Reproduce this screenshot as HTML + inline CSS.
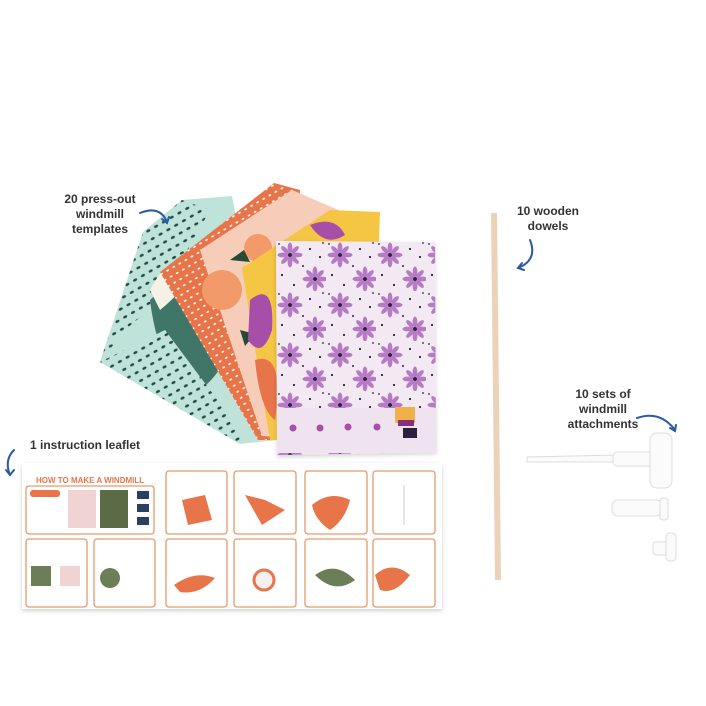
<!DOCTYPE html>
<html><head><meta charset="utf-8"><style>
html,body{margin:0;padding:0;background:#fff;}
svg{display:block;}
text{font-family:"Liberation Sans",sans-serif;}
</style></head><body>
<svg width="706" height="706" viewBox="0 0 706 706" xmlns="http://www.w3.org/2000/svg">
<defs>
<pattern id="tdots" width="9" height="9" patternUnits="userSpaceOnUse" patternTransform="rotate(-30)">
<rect width="9" height="9" fill="#bfe3d8"/><ellipse cx="4" cy="4" rx="2.2" ry="1.3" fill="#1f4a45"/></pattern>
<pattern id="odots" width="7" height="7" patternUnits="userSpaceOnUse" patternTransform="rotate(-30)">
<rect width="7" height="7" fill="#e8744a"/><ellipse cx="3" cy="3" rx="1.5" ry="0.9" fill="#fff"/></pattern>
<g id="fl" fill="#b77ac4">
<ellipse cx="0" cy="-7" rx="2.4" ry="5.5"/><ellipse cx="0" cy="7" rx="2.4" ry="5.5"/><ellipse cx="-7" cy="0" rx="5.5" ry="2.4"/><ellipse cx="7" cy="0" rx="5.5" ry="2.4"/>
<ellipse cx="5" cy="-5" rx="2.2" ry="5" transform="rotate(45 5 -5)"/><ellipse cx="-5" cy="5" rx="2.2" ry="5" transform="rotate(45 -5 5)"/>
<ellipse cx="-5" cy="-5" rx="2.2" ry="5" transform="rotate(-45 -5 -5)"/><ellipse cx="5" cy="5" rx="2.2" ry="5" transform="rotate(-45 5 5)"/>
<circle r="2" fill="#2b2040"/></g>
<pattern id="pflow" width="50" height="50" patternUnits="userSpaceOnUse" x="276" y="241">
<rect width="50" height="50" fill="#f3e9f3"/>
<use href="#fl" x="14" y="14"/><use href="#fl" x="39" y="38"/>
<g fill="#2b2040"><circle cx="34" cy="8" r="1.1"/><circle cx="44" cy="16" r="1.1"/><circle cx="6" cy="34" r="1.1"/><circle cx="18" cy="44" r="1.1"/><circle cx="27" cy="25" r="1"/><circle cx="3" cy="3" r="0.9"/><circle cx="47" cy="2" r="0.9"/></g>
</pattern>
<filter id="sh" x="-10%" y="-10%" width="120%" height="130%"><feDropShadow dx="0" dy="2" stdDeviation="2" flood-color="#000" flood-opacity="0.18"/></filter>
</defs>

<polygon points="182,200 232,196 278,440 240,444 100,362 143,232" fill="#bfe3d8"/>
<polygon points="143,232 182,200 210,210 160,300 125,330 100,362" fill="url(#tdots)"/>
<path d="M150,300 Q190,260 230,300 Q240,360 200,390 Q160,380 150,300Z" fill="#3f7668"/>
<path d="M150,290 Q170,250 200,262 Q185,290 160,310Z" fill="#f4f1e6"/>
<polygon points="100,362 165,330 240,430 240,444" fill="url(#tdots)"/>
<polygon points="160,272 274,183 300,190 290,440 258,440" fill="url(#odots)"/>
<polygon points="200,250 292,190 350,215 330,440 262,436" fill="#f6cdb8"/>
<circle cx="222" cy="290" r="20" fill="#f39a6a"/>
<circle cx="258" cy="248" r="14" fill="#f39a6a"/>
<path d="M230,260 l14,-10 l6,12Z M255,300 l18,-6 l-4,14Z M240,330 l15,4 l-10,12Z" fill="#274a38"/>
<polygon points="242,268 330,210 380,212 372,440 270,440" fill="#f5c544"/>
<path d="M250,300 Q275,280 272,330 Q262,360 248,340Z" fill="#a64ea8"/>
<path d="M310,225 Q335,215 345,235 Q325,248 310,225Z" fill="#a64ea8"/>
<path d="M255,360 Q285,350 275,420 Q260,410 255,360Z" fill="#e8744a"/>
<polygon points="276,241 435,242 436,452 277,455" fill="url(#pflow)" filter="url(#sh)"/>
<rect x="277" y="408" width="159" height="45" fill="#efe3ef"/>
<g fill="#a64ea8"><circle cx="293" cy="428" r="3.5"/><circle cx="320" cy="428" r="3.5"/><circle cx="348" cy="427" r="3.5"/><circle cx="377" cy="427" r="3.5"/></g>
<rect x="395" y="407" width="20" height="16" fill="#f0b04a"/><rect x="398" y="420" width="16" height="6" fill="#8a2e7a"/><rect x="403" y="428" width="14" height="10" fill="#2b2040"/>

<g font-weight="bold" font-size="12" fill="#333" text-anchor="middle">
<text x="100" y="203">20 press-out</text><text x="100" y="218">windmill</text><text x="100" y="233">templates</text>
<text x="548" y="215">10 wooden</text><text x="548" y="230">dowels</text>
<text x="603" y="398">10 sets of</text><text x="603" y="413">windmill</text><text x="603" y="428">attachments</text>
<text x="85" y="449">1 instruction leaflet</text>
</g>
<g fill="none" stroke="#2b5aa0" stroke-width="2" stroke-linecap="round">
<path d="M140,213 Q160,205 167,222"/><path d="M162,219 l5,4 l2,-6"/>
<path d="M530,240 Q538,260 518,268"/><path d="M522,263 l-4,5 l6,2"/>
<path d="M637,418 Q660,410 675,430"/><path d="M670,428 l5,3 l1,-6"/>
<path d="M14,450 Q4,460 10,475"/><path d="M6,470 l4,5 l4,-5"/>
</g>

<polygon points="491,213 497,213 501,580 495,580" fill="#ecd2b8"/>
<g fill="#fbfbfb" stroke="#dcdcdc" stroke-width="1">
<polygon points="527,457 620,455 620,462 527,462"/>
<rect x="613" y="452" width="50" height="14" rx="4"/>
<rect x="650" y="433" width="22" height="55" rx="7"/>
<rect x="612" y="500" width="50" height="16" rx="6"/>
<rect x="660" y="498" width="8" height="22" rx="3"/>
<rect x="653" y="542" width="16" height="13" rx="3"/>
<rect x="666" y="533" width="10" height="28" rx="4"/>
</g>

<rect x="22" y="463" width="420" height="146" fill="#fff" filter="url(#sh)"/>
<text x="36" y="483" font-size="8" font-weight="bold" fill="#e8744a">HOW TO  MAKE A WINDMILL</text>
<g fill="#fff" stroke="#e39a6e" stroke-width="1.3">
<rect x="26" y="486" width="128" height="48" rx="3"/>
<rect x="166" y="471" width="61" height="63" rx="3"/><rect x="234" y="471" width="62" height="63" rx="3"/>
<rect x="305" y="471" width="62" height="63" rx="3"/><rect x="373" y="471" width="62" height="63" rx="3"/>
<rect x="26" y="539" width="61" height="68" rx="3"/><rect x="94" y="539" width="61" height="68" rx="3"/>
<rect x="166" y="539" width="61" height="68" rx="3"/><rect x="234" y="539" width="62" height="68" rx="3"/>
<rect x="305" y="539" width="62" height="68" rx="3"/><rect x="373" y="539" width="62" height="68" rx="3"/>
</g>
<rect x="30" y="490" width="30" height="7" rx="3" fill="#e8744a"/>
<rect x="68" y="490" width="28" height="38" fill="#f0d3d3"/><rect x="100" y="490" width="28" height="38" fill="#5a6b45"/>
<g fill="#2b4060"><rect x="137" y="491" width="12" height="8"/><rect x="137" y="504" width="12" height="8"/><rect x="137" y="517" width="12" height="8"/></g>
<g fill="#e8744a">
<polygon points="182,500 205,495 212,520 188,525"/>
<polygon points="245,495 265,500 285,510 262,525"/>
<path d="M312,505 Q330,490 350,500 Q345,520 330,530 Q315,520 312,505Z"/>
<path d="M174,585 Q195,570 215,578 Q200,595 180,592Z"/>
<path d="M375,575 Q392,560 410,575 Q395,595 380,590Z"/>
</g>
<g fill="#6b7e58">
<rect x="31" y="566" width="20" height="20"/><circle cx="110" cy="578" r="10"/>
<path d="M315,575 Q335,560 355,580 Q335,595 315,575Z"/>
</g>
<rect x="60" y="566" width="20" height="20" fill="#f0d3d3"/>
<circle cx="264" cy="580" r="10" fill="#f3f0ee" stroke="#e8744a" stroke-width="3"/>
<line x1="404" y1="485" x2="404" y2="525" stroke="#ccc"/>
</svg>
</body></html>
